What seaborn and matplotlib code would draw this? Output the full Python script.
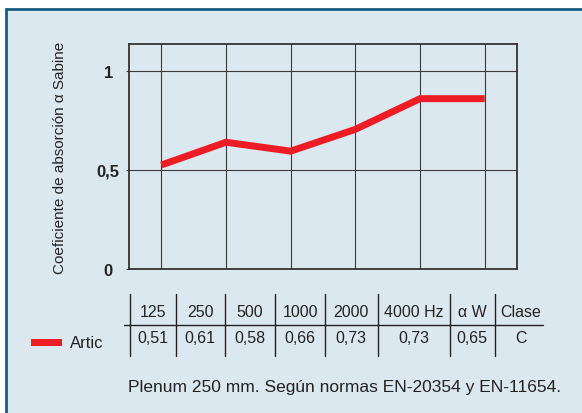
import matplotlib.pyplot as plt
from matplotlib.patches import Rectangle
import seaborn as sns
import pandas as pd

# Data
freqs = ['125', '250', '500', '1000', '2000', '4000 Hz']
curve = [0.525, 0.64, 0.595, 0.705, 0.86, 0.86]
header = ['125', '250', '500', '1000', '2000', '4000 Hz', 'α W', 'Clase']
values = ['0,51', '0,61', '0,58', '0,66', '0,73', '0,73', '0,65', 'C']
series_name = 'Artic'
y_ticks = [0, 0.5, 1]
y_tick_labels = ['0', '0,5', '1']
y_label = 'Coeficiente de absorción α Sabine'
note = 'Plenum 250 mm. Según normas EN-20354 y EN-11654.'

BG = '#dce8f0'
RED = '#ee1d25'
BORDER = '#1b5a80'
INK = '#222222'
GRID = '#3a3a3a'

sns.set_theme(style='white')
plt.rcParams['font.family'] = ['Liberation Sans Narrow', 'Liberation Sans', 'DejaVu Sans']

fig = plt.figure(figsize=(5.82, 4.14), dpi=100)
fig.patch.set_facecolor('white')

# Decoration layer in pixel units (panel, border, table, notes)
deco = fig.add_axes([0, 0, 1, 1])
deco.set_xlim(0, 582)
deco.set_ylim(414, 0)
deco.axis('off')
deco.add_patch(Rectangle((6, 10), 600, 420, facecolor=BG, edgecolor='none'))
deco.plot([6, 6], [9, 414], color=BORDER, lw=2.0, solid_capstyle='butt')
deco.plot([5, 582], [10, 10], color=BORDER, lw=2.0, solid_capstyle='butt')

# Chart
df = pd.DataFrame({'pos': range(len(freqs)), 'alpha': curve})
ax = fig.add_axes([129 / 582, 144 / 414, 388 / 582, 225 / 414])
ax.set_facecolor('none')
sns.lineplot(data=df, x='pos', y='alpha', color=RED, lw=5, ax=ax,
             solid_capstyle='butt', solid_joinstyle='miter')
ax.set_xlim(-0.5, len(freqs) - 0.5)
ax.set_ylim(0, 1.136)
ax.set_xticks(df['pos'])
ax.set_xticklabels([])
ax.set_yticks(y_ticks)
ax.set_yticklabels(y_tick_labels, fontsize=12, fontweight='bold', color=INK)
for lbl in ax.get_yticklabels():
    lbl.set_ha('center')
ax.tick_params(axis='y', left=True, length=2, width=0.8, color=GRID, pad=13)
ax.tick_params(axis='x', bottom=False, length=0)
for x in df['pos']:
    ax.axvline(x, color=GRID, lw=0.8, zorder=1)
for y in y_ticks[1:]:
    ax.axhline(y, color=GRID, lw=0.8, zorder=1)
for s in ax.spines.values():
    s.set_visible(True)
    s.set_color('#333333')
    s.set_linewidth(1.3)
ax.set_xlabel('')
ax.set_ylabel(y_label, fontsize=11, color=INK, labelpad=21)

# Table under the chart
col_edges = [130, 176, 225, 275, 325, 378, 450, 495]
col_centers = [153, 200, 250, 300, 351, 414, 472, 521]
for xe in col_edges:
    deco.plot([xe, xe], [295, 357], color=INK, lw=1.0)
deco.plot([124, 543], [326, 326], color=INK, lw=1.0)
for xc, h, v in zip(col_centers, header, values):
    deco.text(xc, 313, h, ha='center', va='center', fontsize=11.5, color=INK)
    deco.text(xc, 339, v, ha='center', va='center', fontsize=11.5, color=INK)

# Legend
deco.add_patch(Rectangle((31, 340), 31, 7, facecolor=RED, edgecolor='none'))
deco.text(70, 344, series_name, ha='left', va='center', fontsize=12, color=INK)

# Note
deco.text(128, 388, note, ha='left', va='center', fontsize=12.5, color=INK)

fig.savefig('out.png', dpi=100)
